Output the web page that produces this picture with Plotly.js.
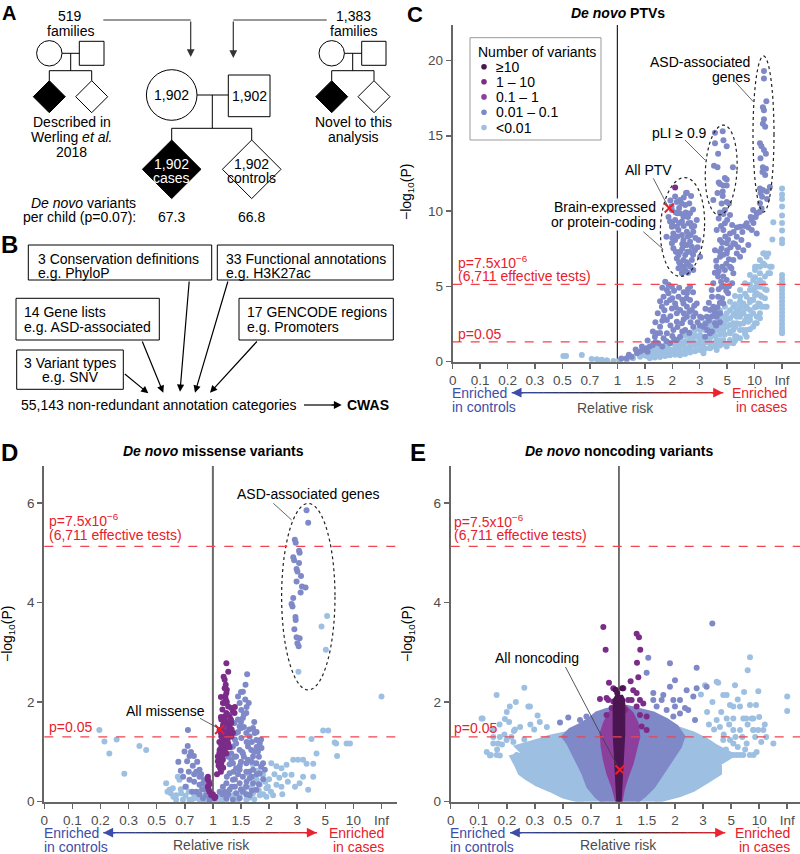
<!DOCTYPE html>
<html><head><meta charset="utf-8">
<script src="https://cdn.plot.ly/plotly-3.0.1.min.js"></script>
<style>html,body{margin:0;padding:0;background:#fff}#chart{width:800px;height:854px}</style>
</head><body><div id="chart"></div>
<script>
// ---------------- DATA ----------------
const tickRR = [0, 0.0909, 0.2, 0.333, 0.5, 0.714, 1, 1.4, 2, 3, 5, 11, Infinity];
const tickLab = ['0','0.1','0.2','0.3','0.5','0.7','1','1.5','2','3','5','10','Inf'];

// Panel C: de novo PTVs  [relative risk, -log10 P]
const ptvLight = [[0.506,0.37],[0.525,0.37],[0.645,0.43],[0.73,0.17],[0.778,0.15],[0.827,0.12],[0.88,0.07],[0.953,0.04],
[0.81,0.06],[0.88,0.06],[1.03,0.06],[1.12,0.10],[1.21,0.21],[1.32,0.32],[1.37,0.43],[1.43,0.37],[1.49,0.54],[1.56,0.50],[1.63,0.59],[1.70,0.76],[1.78,0.66],[1.86,0.99],[1.86,0.66],[1.94,0.80],[2.03,0.76],[2.13,0.88],[2.13,0.54],[2.23,0.99],[2.34,1.10],[2.34,0.54],[2.46,0.88],[2.46,1.32],[2.58,1.21],[2.58,0.99],[2.58,0.66],[2.71,1.32],[2.71,1.65],[2.86,1.21],[2.86,1.65],[2.86,0.76],[3.02,1.43],[3.02,1.76],[3.02,2.09],[3.19,0.99],[3.19,1.54],[3.19,0.54],[3.38,1.65],[3.38,1.32],[3.38,2.09],[3.57,1.87],[3.57,1.21],[3.57,0.88],[3.79,1.87],[3.79,2.20],[3.79,2.54],[4.04,1.43],[4.04,2.09],[4.04,1.21],[4.04,0.76],[4.31,2.09],[4.31,2.42],[4.31,2.76],[4.61,2.64],[4.61,2.09],[4.61,1.43],[4.95,2.31],[4.95,2.76],[4.95,3.20],[4.95,0.99],[5.33,1.87],[5.33,2.87],[5.33,2.42],[5.33,1.43],[5.76,2.54],[5.76,3.09],[5.76,3.64],[5.76,2.09],[5.76,1.21],[6.27,2.98],[6.27,3.42],[6.27,2.54],[6.27,1.65],[6.84,2.09],[6.84,3.64],[6.84,2.98],[6.84,4.31],[7.51,3.20],[7.51,3.86],[7.51,2.54],[7.51,2.09],[8.30,3.64],[8.30,4.31],[8.30,2.98],[8.30,2.09],[8.30,1.65],[8.76,2.64],[9.26,4.75],[9.26,4.09],[9.26,3.42],[9.26,2.76],[9.87,4.09],[10.4,4.75],[10.4,5.41],[10.4,4.09],[10.4,3.20],[10.4,2.31],[11.2,6.08],[12.0,5.20],[12.0,6.30],[12.0,4.53],[12.0,3.64],[12.0,2.98],[12.0,2.54],[12.9,3.86],[13.9,5.86],[13.9,6.74],[13.9,4.97],[13.9,3.20],[15.1,4.31],[15.1,3.64],[16.5,6.52],[16.5,5.20],[16.5,7.18],[17.2,7.18],[18.2,5.64],[20.4,4.75],[20.4,6.96],[20.4,3.64],[23.0,7.18],[23.0,5.86],[26.4,5.86],[26.4,6.30],[30.7,6.30],[33,8.11],[36.7,9.25],
[1.49,0.76],[1.49,0.21],[1.59,0.88],[1.59,0.70],[1.59,0.40],[1.59,0.26],[1.70,0.99],[1.70,0.50],[1.70,0.30],[1.82,1.07],[1.82,0.85],[1.82,0.55],[1.82,0.37],[1.94,1.21],[1.94,0.60],[1.94,0.41],[2.08,1.38],[2.08,1.10],[2.08,0.70],[2.08,0.45],[2.23,1.54],[2.23,1.25],[2.23,0.70],[2.23,0.41],[2.40,1.72],[2.40,1.35],[2.40,0.80],[2.40,0.50],[2.58,1.92],[2.58,1.55],[2.58,0.85],[2.58,0.59],[2.78,2.09],[2.78,1.75],[2.78,1.05],[2.78,0.68],[3.02,2.31],[3.02,1.10],[3.02,0.76],[3.28,2.58],[3.28,2.10],[3.28,1.30],[3.28,0.85],[3.57,2.87],[3.57,2.35],[3.57,1.55],[3.57,0.92],[3.91,3.09],[3.91,2.60],[3.91,1.70],[3.91,1.25],[3.91,0.99],[4.31,3.38],[4.31,3.00],[4.31,1.80],[4.31,1.40],[4.31,1.07],[4.76,3.64],[4.76,3.00],[4.76,2.40],[4.76,1.80],[4.76,1.16],[5.33,3.97],[5.33,3.40],[5.33,2.00],[5.33,1.25],[6.0,4.35],[6.0,3.80],[6.0,3.20],[6.0,2.30],[6.0,1.70],[6.0,1.38],[6.84,4.75],[6.84,4.00],[6.84,3.30],[6.84,2.50],[6.84,1.54],[7.9,5.20],[7.9,4.50],[7.9,3.50],[7.9,2.70],[7.9,1.83],[9.26,5.75],[9.26,5.10],[9.26,3.95],[9.26,3.00],[9.26,2.14],[11.2,6.30],[11.2,5.60],[11.2,4.90],[11.2,4.40],[11.2,3.60],[11.2,2.54],[13.9,6.30],[13.9,5.40],[13.9,4.40],[13.9,3.80],[13.9,2.87],[18.2,7.18],[18.2,6.40],[18.2,4.80],[18.2,4.20],[18.2,3.64]];
const ptvInfP = [11.5,11.1,10.8,10.3,9.7,9.2,8.7,8.1,7.85,5.75,5.5,5.25,5.0,4.75,4.5,4.25,4.0,3.75,3.5,3.25,3.0,2.75,2.5,2.25,2.05,1.87];
const ptvPeri = [
[17.2,19.3],[17.2,18.8],[20.0,17.3],[16.2,16.9],[17.2,16.7],[17.2,16.1],[16.2,15.8],[18.5,15.6],[13.9,14.5],[15.0,14.3],[17.2,14.05],[19.4,13.8],[14.3,13.5],[16.2,12.9],[19.4,12.8],[15.8,12.6],[18.5,12.4],[13.9,11.5],[16.2,11.4],[26,11.6],[14.3,11.2],[20.6,11.3],[15.5,10.95],[21,10.8],[13.9,9.95],
[3.91,15.2],[4.55,15.3],[4.62,14.7],[3.91,14.5],[4.95,14.3],[4.15,13.8],[3.84,13.0],[4.1,12.9],[5.7,12.9],[4.76,12.2],[4.95,12.1],[4.2,11.9],[4.31,11.8],[4.6,11.7],[4.95,11.7],[4.1,11.2],[4.55,11.3],[4.55,11.0],[4.95,10.6],[5.2,10.5],[4.31,9.9],[4.62,9.8],[4.45,10.5],[3.79,10.73],[4.76,10.07],
[2.08,10.96],[2.23,10.73],[2.46,11.22],[2.40,10.4],[2.23,9.85],[2.58,9.85],[2.08,9.4],[2.29,9.3],[2.52,9.18],[2.86,9.4],[1.99,8.96],[2.18,8.73],[2.46,8.62],[2.71,8.62],[1.85,8.29],[2.08,8.07],[2.34,8.07],[2.58,7.96],[2.94,8.07],[2.03,7.52],[2.23,7.3],[2.48,7.3],[2.78,7.4],[2.13,6.85],[2.34,6.74],[2.65,6.74],[2.18,6.19],[2.40,6.08],[2.29,5.86],[2.71,6.08],[3.02,6.96],[1.94,9.3],[2.46,7.74],[2.43,11.2],[2.13,10.6],[2.28,10.5],[1.98,10.3],[2.42,9.9],[2.15,9.85],[1.99,10.07],[2.34,9.62],[2.13,8.96],[2.65,8.96],[2.29,8.4],[1.99,7.85],[2.40,7.74],[2.65,7.63],[2.18,7.07],[2.40,7.07],[2.23,6.52],[2.52,6.41],[2.34,6.30],[2.03,8.51],
[1.9,9.6],[2.0,9.1],[2.1,9.9],[2.2,9.2],[2.35,9.0],[2.5,9.6],[2.6,9.2],[2.75,9.0],[2.0,8.2],[2.15,8.3],[2.3,7.8],[2.5,8.3],[2.6,8.4],[2.8,8.2],[2.1,7.3],[2.3,7.5],[2.55,7.3],[2.7,7.1],[2.9,7.6],[2.2,6.6],[2.45,6.6],[2.6,6.3],[2.3,5.95],[2.5,5.9],[2.2,10.2],[2.35,10.9],[2.55,10.5],[2.7,10.1],[1.95,10.7],[2.62,11.0],
[1.78,4.31],[1.86,4.75],[1.94,4.09],[1.74,3.64],[1.99,3.53],[2.18,4.31],[2.34,3.86],[2.58,4.09],[2.13,3.2],[2.46,2.98],[1.86,2.76],[1.70,2.31],[2.03,2.09],[2.29,2.54],[2.65,3.42],[2.86,3.86],[1.59,1.65],[1.78,1.54],[1.94,1.21],[2.23,1.65],[1.49,0.99],[1.37,0.76],[1.27,0.54],[1.19,0.32],[1.12,0.21],[2.58,4.97],[2.71,2.31],[3.02,2.98],[1.90,4.53],[2.08,3.86],[2.23,3.42],[2.46,3.64],[2.13,2.64],[1.78,2.98],[1.63,1.87],[1.86,1.87],[2.40,2.09],[2.71,2.98],[1.32,0.66],[1.43,0.88],[1.66,1.21],[2.13,1.43],[2.46,4.53],[1.99,4.97],[1.82,5.3],
[1.75,4.9],[1.9,5.1],[2.05,4.7],[2.2,4.9],[2.35,4.6],[2.5,4.8],[2.7,4.6],[1.7,4.0],[1.85,3.9],[2.0,4.2],[2.3,4.1],[2.45,4.2],[2.75,3.7],[1.65,3.2],[1.8,3.4],[1.95,3.0],[2.1,3.6],[2.35,3.2],[2.55,3.3],[2.8,3.2],[1.6,2.6],[1.75,2.7],[1.95,2.4],[2.15,2.3],[2.35,2.8],[2.6,2.6],[2.9,2.6],[1.55,2.0],[1.7,1.9],[2.0,1.7],[2.3,2.0],[2.55,1.9],[1.45,1.4],[1.6,1.3],[1.85,1.35],[2.05,1.5],[1.35,1.0],[1.55,1.1],[1.75,1.0],[1.25,0.8],[1.45,0.65],[1.15,0.45],[1.05,0.2],
[3.57,1.87],[3.91,2.54],[4.31,3.2],[3.79,3.64],[4.61,3.86],[4.15,4.31],[5.1,4.53],[4.45,4.97],[4.95,5.41],[5.6,5.2],[5.76,5.86],[4.76,6.08],[4.04,6.3],[4.31,6.96],[3.91,7.4],[4.95,7.18],[5.76,7.85],[4.31,8.07],[5.33,8.51],[6.27,8.29],[6.84,8.96],[8.30,9.18],[9.87,9.4],[12.0,9.85],[15.1,10.17],[12.0,8.51],[7.51,7.4],[8.76,7.74],[4.61,8.73],[3.79,5.2],[3.38,2.98],[3.19,2.31],[4.04,8.73],[4.76,9.18],[5.33,9.74],[6.84,6.96],[5.76,6.74],[5.33,6.30],[6.27,7.18],[7.1,8.07],[3.68,4.75],[4.61,5.64],[4.15,5.64],[3.57,3.42],[4.04,2.98],[3.28,1.65],[9.87,8.73],[10.4,10.07],[13.9,10.51],[4.95,7.85],[5.6,9.07],[4.45,7.52],
[3.3,2.5],[3.5,2.7],[3.7,3.0],[3.9,3.3],[4.1,3.6],[4.3,3.9],[4.5,4.2],[4.2,4.8],[4.4,5.3],[4.7,5.0],[4.9,4.7],[5.2,5.0],[3.9,5.9],[4.2,6.0],[4.5,6.3],[4.9,6.5],[5.2,6.8],[5.5,6.2],[4.0,6.7],[4.3,7.3],[4.6,7.1],[5.0,7.4],[5.4,7.6],[6.0,7.8],[6.5,7.6],[4.5,7.9],[4.8,8.3],[5.1,8.1],[5.8,8.6],[6.3,8.9],[7.3,8.6],[7.8,9.0],[8.8,8.9],[9.5,9.6],[10.5,9.2],[11.5,9.6],[13,9.9],[4.4,9.0],[5.0,9.4],[4.2,9.5],[3.7,4.3],[3.5,3.9],[3.3,3.5],[3.1,2.9],[3.0,2.4],[3.4,2.1],[3.7,2.0],[4.0,2.4],[4.3,2.6]];
const ptvPurple = [[2.08,11.57]];
const ptvAll = [[1.92,10.2]];

// Panel D: de novo missense
const missLight = [[0.195,1.44],[0.217,1.21],[0.239,0.97],[0.273,1.25],[0.311,0.56],[0.393,1.12],[0.433,1.04],
[0.566,0.37],[0.576,0.20],[0.591,0.24],[0.616,0.27],[0.669,0.44],[0.683,0.17],[0.642,0.13],[0.727,0.30],[0.756,0.04],[0.803,0.07],[0.853,0.04],[0.698,0.04],[0.642,0.04],[0.60,0.17],[0.655,0.50],
[0.853,0.07],[0.925,0.04],[1.0,0.03],[1.083,0.04],[1.174,0.04],[1.27,0.07],[1.377,0.10],[1.494,0.13],[1.625,0.17],[1.77,0.13],[1.93,0.10],[1.494,0.04],[1.083,0.10],[1.696,0.44],[1.846,0.54],[1.77,0.34],[1.93,0.27],[1.52,0.57],[1.70,0.44],[1.60,0.30],[1.40,0.20],[1.30,0.15],[1.20,0.12],[0.95,0.08],[0.90,0.12],[0.80,0.15],[0.75,0.20],
[0.62,0.1],[0.68,0.25],[0.72,0.12],[0.78,0.05],[0.85,0.2],[0.9,0.05],[0.95,0.15],[1.05,0.05],[1.1,0.08],[1.15,0.03],[1.25,0.12],[1.35,0.05],[1.45,0.2],[1.55,0.08],[1.65,0.05],[1.75,0.22],[1.85,0.15],[1.9,0.4],[1.8,0.55],[1.7,0.62],[1.62,0.75],[1.58,0.28],[1.48,0.3],[2.0,0.45],[2.15,0.55],[2.3,0.48],[2.6,0.4],[2.9,0.3],[2.05,0.2],[2.4,0.15],
[2.06,0.77],[2.21,0.71],[2.37,0.67],[2.55,0.74],[2.82,0.84],[3.04,0.84],[3.30,0.84],[3.50,0.76],[3.94,0.76],[4.19,0.97],[3.82,1.26],[4.78,1.43],[5.33,1.43],[6.2,1.19],[6.45,1.17],[8.66,1.17],[9.7,1.17],[6.6,0.92],[2.49,0.54],[2.75,0.54],[3.12,0.37],[3.30,0.50],[2.37,0.30],[2.21,0.34],[1.97,0.30],[3.94,0.50],[3.60,0.24],[2.11,0.13],
[5.2,3.73],[4.62,3.52],[5.06,3.05],[3.06,2.61],[Infinity,2.11]];
const missPeri = [[3.50,5.85],[3.60,5.60],[2.89,5.26],[2.93,5.20],[3.09,5.04],[3.12,5.00],[2.82,4.91],[2.86,4.85],[3.09,4.79],[2.97,4.67],[3.01,4.62],[3.19,4.53],[2.97,4.42],[3.24,4.32],[3.17,4.20],[3.44,4.30],[2.82,4.09],[2.75,3.97],[2.79,3.92],[2.92,3.71],[2.93,3.65],[2.87,3.46],[2.97,3.30],[3.12,3.28],[3.01,3.18],[3.07,3.12],
[0.742,1.44],[1.51,2.56],[0.712,1.01],[0.756,0.92],[0.797,0.92],[0.735,0.81],[0.787,0.72],[0.82,0.60],[0.853,0.50],[0.756,0.44],[0.853,0.34],[0.889,0.37],[0.907,0.24],[0.82,0.20],[0.925,0.13],[0.853,0.64],[0.925,0.30],[0.889,0.07],[0.961,0.04],
[0.7,0.5],[0.75,0.6],[0.8,0.4],[0.72,0.3],[0.78,0.2],[0.85,0.15],[0.88,0.25],[0.9,0.45],[0.83,0.8],[0.77,1.0],[0.74,1.12],[0.8,0.55],[0.87,0.55],[0.68,0.62],[0.66,0.8],
[1.433,2.21],[1.475,2.05],[1.377,1.98],[1.405,1.84],[1.35,1.65],[1.433,1.68],[1.625,1.48],[1.66,1.38],[1.558,1.31],[1.696,1.24],[1.77,1.17],[1.81,1.08],[1.27,1.11],[1.32,0.91],[1.433,0.97],[1.526,0.84],[1.625,0.91],[1.696,0.77],[1.846,0.77],[1.377,0.64],[1.494,0.60],[1.625,0.64],[1.77,0.57],[1.27,0.44],[1.377,0.37],[1.494,0.30],[1.625,0.37],[1.22,0.24],[1.32,0.17],[1.433,0.20],[1.174,0.07],[1.27,0.04],[1.377,0.07],[1.558,0.13],[1.696,0.24],[1.526,1.11],[1.405,1.28],[1.32,1.38],
[1.295,1.58],[1.377,1.51],[1.494,1.38],[1.32,1.17],[1.377,1.04],[1.245,0.97],[1.27,0.77],[1.22,0.57],[1.174,0.37],[1.083,0.20],[1.126,0.30],[1.59,1.04],[1.73,1.01],[1.89,0.64],[1.558,0.47],[1.433,0.50],[1.32,0.67],[1.245,0.84],[1.494,0.77],[1.405,1.48],[1.494,1.78],[1.54,1.98],[1.35,2.11],
[1.2,0.9],[1.25,1.1],[1.3,1.25],[1.35,1.4],[1.4,1.6],[1.45,1.5],[1.5,1.2],[1.45,0.9],[1.4,0.8],[1.35,0.55],[1.3,0.45],[1.25,0.3],[1.2,0.15],[1.15,0.2],[1.3,0.3],[1.4,0.25],[1.5,0.4],[1.55,0.6],[1.6,0.8],[1.65,1.0],[1.7,1.1],[1.75,0.9],[1.8,0.7],[1.7,0.55],[1.6,0.5],[1.5,0.15],[1.6,0.22],[1.75,0.35],[1.85,0.45],[1.45,1.75],[1.5,1.9],[1.4,2.2],[1.48,2.35],[1.42,1.0],[1.38,0.72],[1.28,0.6],[1.18,0.5],[1.22,0.75],[1.12,0.15],[1.3,0.9],[1.6,1.2],[1.55,1.45],[1.65,1.6],[1.7,1.4],[1.8,1.25]];
const missPurple = [[1.174,2.78],[1.2,2.61],[1.165,2.35],[1.15,2.28],[1.174,2.18],[1.165,2.05],[1.126,1.98],[1.2,1.91],[1.245,1.88],[1.27,1.81],[1.15,1.71],[1.105,1.65],[1.174,1.58],[1.22,1.51],[1.136,1.41],[1.2,1.38],[1.083,1.44],[1.105,1.31],[1.15,1.24],[1.22,1.31],[1.105,1.14],[1.15,1.11],[1.126,1.01],[1.083,0.91],[1.06,0.81],[1.105,0.77],[1.174,0.97],[1.2,1.17],[0.943,0.50],[0.954,0.40],[0.943,0.30],[0.961,0.20],[0.98,0.13],[1.02,0.07],[1.27,1.38],[1.245,1.58],[1.295,1.78],[1.136,2.51],[1.15,1.98],[1.22,1.71],[1.174,1.78],[1.126,1.51],[1.245,1.31],[1.126,1.21],[1.083,1.04],[1.174,1.08],[1.06,0.91],[1.09,0.67],[1.126,0.84],
[1.10,2.1],[1.18,2.0],[1.12,1.85],[1.19,1.75],[1.10,1.7],[1.16,1.62],[1.24,1.65],[1.13,1.55],[1.2,1.47],[1.1,1.38],[1.18,1.33],[1.25,1.45],[1.14,1.29],[1.08,1.2],[1.19,1.24],[1.16,1.15],[1.1,1.07],[1.22,1.1],[1.14,0.98],[1.08,0.98],[1.12,0.9],[1.07,0.72],[1.1,0.6],[1.13,0.68],[1.05,0.55],[0.94,0.45],[0.96,0.35],[0.95,0.25],[1.0,0.15],[1.03,0.1],[1.3,1.9],[1.15,2.45],[1.18,2.25],[1.16,2.12]];
const missAll = [[1.083,1.45]];

// Panel E: de novo noncoding (dense regions as outlines + scattered points)
const ncLightEnv = [[0.650,0],[0.503,0.10],[0.418,0.234],[0.343,0.348],[0.291,0.469],[0.259,0.569],[0.241,0.737],[0.221,0.904],[0.275,0.971],[0.244,1.105],[0.361,1.239],[0.418,1.306],[0.525,1.373],[0.624,1.507],[0.766,1.64],[1.285,1.64],[1.791,1.574],[1.955,1.507],[2.584,1.373],[3.177,1.239],[3.770,1.105],[5.246,0.938],[4.006,0.770],[4.006,0.569],[3.177,0.402],[2.584,0.234],[2.138,0.134],[1.545,0]];
const ncPeriEnv = [[0.830,0],[0.766,0.10],[0.692,0.301],[0.650,0.569],[0.611,0.770],[0.573,0.971],[0.537,1.172],[0.503,1.306],[0.549,1.44],[0.624,1.54],[0.692,1.64],[0.766,1.774],[0.863,1.841],[1.096,1.908],[1.285,1.841],[1.513,1.774],[1.791,1.64],[2.044,1.507],[2.239,1.306],[2.138,1.105],[1.955,0.904],[1.791,0.703],[1.645,0.502],[1.513,0.301],[1.366,0.134],[1.235,0]];
const ncPurpleEnv = [[0.980,0],[0.935,0.301],[0.881,0.569],[0.846,0.837],[0.823,1.105],[0.813,1.373],[0.846,1.574],[0.898,1.774],[0.973,1.908],[1.074,1.908],[1.163,1.774],[1.235,1.574],[1.260,1.306],[1.210,1.038],[1.163,0.770],[1.096,0.502],[1.045,0.234],[1.020,0]];
const ncDarkEnv = [[0.992,0],[0.965,0.703],[0.950,1.373],[0.950,2.042],[0.973,2.109],[1.032,2.109],[1.053,2.042],[1.053,1.373],[1.036,0.703],[1.008,0]];
const ncLight = [[8.036,2.90],[7.511,2.64],[Infinity,2.11],[Infinity,1.82],[10.65,2.22],[8.036,1.94],[8.466,1.67],[4.557,2.14],[5.246,1.91],[6.128,1.91],[3.770,2.41],[5.447,2.34],[3.092,2.34],[3.88,2.39],[4.26,2.14],[4.88,1.94],[9.8,1.94],[6.66,1.67],[5.24,1.67],[7.2,1.67],[8.9,1.67],[8.9,1.44],[10.6,1.44],[13.1,1.44],[5.24,1.44],[4.26,1.24],[4.88,1.24],[5.66,0.94],[6.66,0.94],[3.770,1.64],[4.557,1.67],[6.128,1.44],[8.935,1.44],[5.246,1.17],[7.299,1.17],[23.3,1.17],[5.246,0.94],[6.128,0.94],
[3.3,1.55],[3.6,1.45],[4.0,1.5],[4.3,1.35],[4.8,1.55],[5.5,1.3],[6.5,1.3],[7.5,1.55],[9.5,1.3],[12,1.2],[15,1.3],[3.2,1.8],[3.5,2.0],[2.9,2.15],[4.1,1.8],[5.8,2.05],[6.8,2.2],[11,1.7],[14,1.55],[4.5,1.05],[5.8,1.1],[7,1.05],[8,0.94],[9,0.94],[10,1.0],
[0.158,2.14],[0.280,2.29],[0.308,1.91],[0.213,1.91],[0.1047,1.67],[0.192,1.66],[0.348,1.73],[0.231,1.42],[0.145,1.17],[0.164,1.17],[0.132,0.93],[0.171,0.93],[0.101,1.67],[0.30,1.91],[0.236,1.45],[0.145,1.30],[0.171,1.30],[0.199,1.24],[0.135,0.94],[0.158,0.94],[0.229,1.2],[0.259,1.1],[0.244,0.94],[0.275,0.94],[0.308,0.94],[0.25,0.76],[0.28,0.76],
[0.12,1.0],[0.14,1.45],[0.17,1.55],[0.19,1.35],[0.21,1.6],[0.26,1.5],[0.28,1.25],[0.31,1.55],[0.33,1.45],[0.36,1.6],[0.4,1.5],[0.24,2.0],[0.2,1.8],[0.16,1.05],[0.18,1.15],[0.22,1.3]];
const ncPeri = [[3.494,3.58],[1.422,2.89],[1.394,2.59],[1.870,2.78],[1.998,2.44],[2.716,2.69],[2.346,2.24],[2.716,2.28],[3.177,2.31],[1.870,2.31],[2.138,2.04],[1.955,2.04],[1.716,2.14],[1.577,1.91],[1.998,1.91],[2.292,1.88],[0.481,1.59],[0.537,1.69],[0.664,1.51],[0.720,1.57],[1.680,2.04],[1.513,2.04],[1.513,2.18],[2.584,2.11],[2.4,1.84],[1.791,1.84],[0.624,1.64],[0.676,1.71],[0.735,1.67],[1.955,1.71],[2.138,1.77],[2.65,1.64]];
const ncPurple = [[0.830,3.51],[0.853,3.05],[1.235,3.37],[1.270,3.30],[1.290,3.05],[1.240,2.79],[1.260,2.50],[1.149,2.42],[0.935,2.28],[1.053,2.28],[1.186,2.24],[1.235,2.18],[0.797,2.06],[0.863,2.08],[0.935,2.01],[1.118,2.04],[1.163,2.04],[1.285,2.04],[1.338,1.97],[1.235,1.91],[0.916,1.88],[1.074,1.84],[0.863,1.74],[1.285,1.74],[1.394,1.71],[1.312,1.51],[1.394,1.44],[0.888,2.39],[0.88,2.04]];
const ncDark = [[0.96,2.25],[1.04,2.28],[0.98,2.18]];
const ncAll = [[1.012,0.64]];

// thresholds and legend
const pBonf = 5.125, pNominal = 1.301;
const legendLabels = ['≥10','1 – 10','0.1 – 1','0.01 – 0.1','&lt;0.01'];

// ---------------- STYLE / HELPERS ----------------
const F = '"Liberation Sans", Arial, Helvetica, sans-serif';
const W = 800, H = 854;
const PX = x => x / W, PY = y => 1 - y / H;
const C_GE10 = '#4a1550', C_1_10 = '#7b2c88', C_01_1 = '#8d3f9e', C_PERI = '#7f89c8', C_LT = '#9dc0e2';
const RED = '#e8202a', BLUE = '#3b4ea8', GRAYTXT = '#4d4d4d';
const rrAxis = r => (r === Infinity ? 1 : (r - 1) / (r + 1));

const data = [];
function addPts(list, xa, ya, color, size){
  data.push({type:'scatter',mode:'markers',x:list.map(d=>rrAxis(d[0])),y:list.map(d=>d[1]),xaxis:xa,yaxis:ya,
    marker:{color:color,size:size||6,line:{width:0}},cliponaxis:false,hoverinfo:'skip',showlegend:false});
}
function addEnv(list, xa, ya, color){
  data.push({type:'scatter',mode:'lines',x:list.map(d=>rrAxis(d[0])),y:list.map(d=>d[1]),xaxis:xa,yaxis:ya,
    fill:'toself',fillcolor:color,line:{color:color,width:4},hoverinfo:'skip',showlegend:false});
}
function addX(list, xa, ya){
  data.push({type:'scatter',mode:'markers',x:list.map(d=>rrAxis(d[0])),y:list.map(d=>d[1]),xaxis:xa,yaxis:ya,
    marker:{symbol:'x-thin',size:9,color:'#ee1c25',line:{color:'#ee1c25',width:2}},cliponaxis:false,hoverinfo:'skip',showlegend:false});
}

addPts(ptvLight,'x','y',C_LT);
addPts(ptvInfP.map(p=>[Infinity,p]),'x','y',C_LT);
addPts(ptvPeri,'x','y',C_PERI);
addPts(ptvPurple,'x','y',C_1_10);
addX(ptvAll,'x','y');
addPts(missLight,'x2','y2',C_LT);
addPts(missPeri,'x2','y2',C_PERI);
addPts(missPurple,'x2','y2',C_1_10);
addX(missAll,'x2','y2');
addEnv(ncLightEnv,'x3','y3',C_LT);
addPts(ncLight,'x3','y3',C_LT);
addEnv(ncPeriEnv,'x3','y3',C_PERI);
addPts(ncPeri,'x3','y3',C_PERI);
addEnv(ncPurpleEnv,'x3','y3',C_01_1);
addPts(ncPurple,'x3','y3',C_1_10);
addEnv(ncDarkEnv,'x3','y3',C_GE10);
addPts(ncDark,'x3','y3',C_GE10);
addX(ncAll,'x3','y3');

function xax(domain, right, anchor){
  return {domain:domain, range:[-1,right], anchor:anchor, tickvals:tickRR.map(rrAxis), ticktext:tickLab,
    ticks:'outside', ticklen:5, tickwidth:1.5, tickcolor:'#666', showline:true, linecolor:'#666', linewidth:2,
    showgrid:false, zeroline:false, tickfont:{family:F,size:13.5,color:GRAYTXT}, fixedrange:true};
}
function yax(domain, top, tv, anchor){
  return {domain:domain, range:[0,top], anchor:anchor, tickvals:tv, ticks:'outside', ticklen:5, tickwidth:1.5,
    tickcolor:'#666', showline:true, linecolor:'#666', linewidth:2, showgrid:false, zeroline:false,
    tickfont:{family:F,size:13.5,color:GRAYTXT}, fixedrange:true};
}

const shapes = [], ann = [];
function ln(x0,y0,x1,y1,color,width,dash){ shapes.push({type:'line',xref:'paper',yref:'paper',x0:PX(x0),y0:PY(y0),x1:PX(x1),y1:PY(y1),line:{color:color||'#000',width:width||1,dash:dash||'solid'}}); }
function rect(x0,y0,x1,y1,fill,lc){ shapes.push({type:'rect',xref:'paper',yref:'paper',x0:PX(x0),y0:PY(y0),x1:PX(x1),y1:PY(y1),fillcolor:fill||'rgba(0,0,0,0)',line:{color:lc||'#000',width:1}}); }
function circ(cx,cy,r,fill,lc,lw){ shapes.push({type:'circle',xref:'paper',yref:'paper',x0:PX(cx-r),y0:PY(cy+r),x1:PX(cx+r),y1:PY(cy-r),fillcolor:fill||'rgba(0,0,0,0)',line:{color:lc||'#000',width:lw===undefined?1:lw}}); }
function diamond(cx,cy,h,fill){ shapes.push({type:'path',xref:'paper',yref:'paper',path:'M'+PX(cx)+','+PY(cy-h)+'L'+PX(cx+h)+','+PY(cy)+'L'+PX(cx)+','+PY(cy+h)+'L'+PX(cx-h)+','+PY(cy)+'Z',fillcolor:fill,line:{color:'#000',width:1}}); }
function ellipse(cx,cy,rx,ry,rot){
  const a=rot*Math.PI/180; let d='';
  for(let i=0;i<=72;i++){const th=2*Math.PI*i/72, ex=rx*Math.cos(th), ey=ry*Math.sin(th);
    const X=cx+ex*Math.cos(a)-ey*Math.sin(a), Y=cy+ex*Math.sin(a)+ey*Math.cos(a);
    d+=(i?'L':'M')+PX(X).toFixed(5)+','+PY(Y).toFixed(5);}
  shapes.push({type:'path',xref:'paper',yref:'paper',path:d+'Z',line:{color:'#222',width:1.2,dash:'dot'}});
}
function txt(x,y,text,o){ o=o||{};
  ann.push({xref:'paper',yref:'paper',x:PX(x),y:PY(y),text:text,showarrow:false,xanchor:o.xa||'center',yanchor:'middle',
    textangle:o.ang||0,bgcolor:o.bg||'rgba(0,0,0,0)',borderpad:o.pad||0,
    font:{family:F,size:o.size||14,color:o.color||'#000'}}); }
function arr(x0,y0,x1,y1,color,width,size){
  ann.push({xref:'paper',yref:'paper',x:PX(x1),y:PY(y1),ax:x0-x1,ay:y0-y1,text:'',showarrow:true,arrowhead:2,
    arrowsize:size||1.2,arrowwidth:width||1.2,arrowcolor:color||'#000',standoff:0,startstandoff:0}); }
function mix(a,b,f){return 'rgb('+a.map((v,i)=>Math.round(v+(b[i]-v)*f)).join(',')+')';}
function gradArrow(x0,x1,y){
  const n=40, B=[59,78,170], K=[35,35,35], R=[238,36,46];
  for(let i=0;i<n;i++){const f=(i+0.5)/n; const c=f<0.5?mix(B,K,f*2):mix(K,R,(f-0.5)*2);
    ln(x0+(x1-x0)*i/n,y,x0+(x1-x0)*(i+1)/n+0.3,y,c,1.4);}
  arr(x0+13,y,x0,y,mix(B,K,0.02),1.4,1.4);
  arr(x1-13,y,x1,y,mix(K,R,0.98),1.4,1.4);
}

// Panel letters
txt(1,13,'<b>A</b>',{xa:'left',size:20});
txt(0,244,'<b>B</b>',{xa:'left',size:24});
txt(406,14,'<b>C</b>',{xa:'left',size:22});
txt(0,452,'<b>D</b>',{xa:'left',size:24});
txt(409,452,'<b>E</b>',{xa:'left',size:24});

// Panel A
txt(70,16,'519'); txt(70,31,'families');
txt(353.3,16,'1,383'); txt(353.3,31,'families');
ln(103.3,20,190.7,20,'#333',1.2); arr(190.7,20,190.7,57,'#333',1.2,1.3);
ln(326.7,20,233.3,20,'#333',1.2); arr(233.3,20,233.3,58,'#333',1.2,1.3);
circ(49.3,53.3,12.7); rect(79.3,41.3,104,65.3);
ln(62,53.3,79.3,53.3); ln(70.7,53.3,70.7,70.7); ln(49.3,70.7,91.7,70.7); ln(49.3,70.7,49.3,80.7); ln(91.7,70.7,91.7,80.7);
diamond(49.3,96.7,16,'#000'); diamond(91.7,96.7,16,'#fff');
txt(71.7,121.7,'Described in'); txt(71.7,136.7,'Werling <i>et al.</i>'); txt(71.7,151.7,'2018');
circ(331.7,53.3,12.7); rect(361.7,41.3,386,65.3);
ln(344.4,53.3,361.7,53.3); ln(352.7,53.3,352.7,70.7); ln(331.7,70.7,374,70.7); ln(331.7,70.7,331.7,80.7); ln(374,70.7,374,80.7);
diamond(331.7,96.7,16,'#000'); diamond(374,96.7,16,'#fff');
txt(353.3,121.7,'Novel to this'); txt(353.3,136.7,'analysis');
circ(171.7,95,25.3); rect(228.3,75,270,116.7);
txt(171.7,95,'1,902'); txt(249.2,95.8,'1,902');
ln(197,95,228.3,95); ln(212.3,95,212.3,128.3); ln(171.7,128.3,251.7,128.3); ln(171.7,128.3,171.7,140); ln(251.7,128.3,251.7,140);
diamond(171.7,169.3,29.3,'#000'); diamond(251.7,169.3,29.3,'#fff');
txt(171.7,164,'1,902',{color:'#fff'}); txt(171.7,178.3,'cases',{color:'#fff'});
txt(251.7,164,'1,902'); txt(251.7,178.3,'controls');
txt(136.7,202.7,'<i>De novo</i> variants',{xa:'right'}); txt(136.7,216.7,'per child (p=0.07):',{xa:'right'});
txt(171.7,216.7,'67.3'); txt(251.7,216.7,'66.8');

// Panel B
rect(28.3,245,211.7,280); rect(217.3,245,393.3,280); rect(16,298.3,159.3,340); rect(239,298.3,393.3,340); rect(16.7,350,123.3,389.3);
txt(36.7,259.3,'3 Conservation definitions',{xa:'left'}); txt(36.7,273.3,'e.g. PhyloP',{xa:'left'});
txt(225,259.3,'33 Functional annotations',{xa:'left'}); txt(225,273.3,'e.g. H3K27ac',{xa:'left'});
txt(23.3,311.7,'14 Gene lists',{xa:'left'}); txt(23.3,326.7,'e.g. ASD-associated',{xa:'left'});
txt(246,311.7,'17 GENCODE regions',{xa:'left'}); txt(246,326.7,'e.g. Promoters',{xa:'left'});
txt(70,363.3,'3 Variant types'); txt(70,376.7,'e.g. SNV');
txt(20,405,'55,143 non-redundant annotation categories',{xa:'left'});
ln(304,405,336,405,'#000',1.2); arr(330,405,341.7,405,'#000',1.2,1.3);
txt(368.3,405,'<b>CWAS</b>');
arr(123.3,372.7,148.3,393.3); arr(141.7,340,163.3,392.7); arr(189.3,280,180,391.7); arr(228.3,280,195,392.7); arr(258.3,340,210,392.7);

// Panel C annotations
txt(618,13,'<b><i>De novo</i> PTVs</b>');
txt(407,192,'−log<sub>10</sub>(P)',{ang:-90});
rect(470,37.7,601,140,'#fff','#999');
txt(476.7,52.3,'Number of variants',{xa:'left'});
const legCols=[C_GE10,C_1_10,C_01_1,C_PERI,C_LT], legY=[66.7,81.7,96.9,112.3,127.5];
legendLabels.forEach((l,i)=>{ circ(484,legY[i],2.8,legCols[i],legCols[i],0); txt(495,legY[i],l,{xa:'left'}); });
txt(457,261.7,'p=7.5x10<sup>−6</sup>',{xa:'left',color:RED}); txt(457,275.5,'(6,711 effective tests)',{xa:'left',color:RED});
txt(457,334,'p=0.05',{xa:'left',color:RED});
txt(751.3,62.3,'ASD-associated',{xa:'right'}); txt(751.3,77,'genes',{xa:'right'});
ln(735,81.7,753.3,101.7,'#555',0.9);
txt(708.3,133.3,'pLI ≥ 0.9',{xa:'right'});
ln(685,140,705,160,'#555',0.9);
txt(648.3,170,'All PTV');
ln(653.3,178.3,667.5,205.5,'#555',0.9);
txt(656.7,207.3,'Brain-expressed',{xa:'right',bg:'#fff'}); txt(656.7,221.7,'or protein-coding',{xa:'right',bg:'#fff'});
ln(643.3,231.7,663.3,249.3,'#555',0.9);
ellipse(682.5,227,22,49.5,3); ellipse(721.2,170,15.8,45,3); ellipse(763.5,134,10.5,78,0);
txt(450.7,392.7,'Enriched',{xa:'left',color:BLUE}); txt(450.7,407.3,'in controls',{xa:'left',color:BLUE});
txt(788.3,392.7,'Enriched',{xa:'right',color:RED}); txt(788.3,407.3,'in cases',{xa:'right',color:RED});
txt(615,408,'Relative risk',{color:GRAYTXT});
gradArrow(511.7,723,392.7);

// Panel D annotations
txt(213,451,'<b><i>De novo</i> missense variants</b>');
txt(8,634,'−log<sub>10</sub>(P)',{ang:-90});
txt(48.3,520,'p=7.5x10<sup>−6</sup>',{xa:'left',color:RED}); txt(48.3,534.5,'(6,711 effective tests)',{xa:'left',color:RED});
txt(48.3,726.7,'p=0.05',{xa:'left',color:RED});
txt(308.3,494,'ASD-associated genes');
ln(273.3,503.3,291.7,520,'#555',0.9);
ellipse(308.3,596.7,26.7,93.3,0);
txt(165.7,711,'All missense');
ln(200,718.3,217.5,727.8,'#555',0.9);
txt(43.3,832.7,'Enriched',{xa:'left',color:BLUE}); txt(43.3,846.5,'in controls',{xa:'left',color:BLUE});
txt(385,832.7,'Enriched',{xa:'right',color:RED}); txt(385,846.5,'in cases',{xa:'right',color:RED});
txt(211.7,845,'Relative risk',{color:GRAYTXT});
gradArrow(103.3,316.7,832.7);

// Panel E annotations
txt(619,451,'<b><i>De novo</i> noncoding variants</b>');
txt(408,634,'−log<sub>10</sub>(P)',{ang:-90});
txt(453.3,520.7,'p=7.5x10<sup>−6</sup>',{xa:'left',color:RED}); txt(453.3,535.3,'(6,711 effective tests)',{xa:'left',color:RED});
txt(453.3,728.3,'p=0.05',{xa:'left',color:RED});
txt(536.7,658.3,'All noncoding');
ln(565.5,667,616.5,764.5,'#444',0.9);
txt(449.3,832.7,'Enriched',{xa:'left',color:BLUE}); txt(449.3,846.5,'in controls',{xa:'left',color:BLUE});
txt(790.7,832.7,'Enriched',{xa:'right',color:RED}); txt(790.7,846.5,'in cases',{xa:'right',color:RED});
txt(618.3,845,'Relative risk',{color:GRAYTXT});
gradArrow(510,725,832.7);

// data-referenced lines: RR = 1 and significance thresholds
[['x','y','#222',1.2],['x2','y2','#6a6a6a',2],['x3','y3','#444',1.5]].forEach(a=>{
  shapes.push({type:'line',xref:a[0],yref:a[1]+' domain',x0:rrAxis(1),x1:rrAxis(1),y0:0,y1:1,layer:'below',line:{color:a[2],width:a[3]}});
  [pBonf,pNominal].forEach(v=>shapes.push({type:'line',xref:a[0]+' domain',yref:a[1],x0:0,x1:1,y0:v,y1:v,line:{color:'#f0444f',width:1.2,dash:'dash'}}));
});

const layout = {
  width:W, height:H, margin:{l:0,r:0,t:0,b:0}, autosize:false,
  paper_bgcolor:'#fff', plot_bgcolor:'rgba(0,0,0,0)', showlegend:false, hovermode:false,
  font:{family:F,size:14,color:'#000'},
  xaxis: xax([452.7/W,1],1.109,'y'),
  yaxis: yax([1-361.5/H,1-25/H],22.36,[0,5,10,15,20],'x'),
  xaxis2: xax([44.3/W,397/W],1.092,'y2'),
  yaxis2: yax([1-801.7/H,1-466/H],6.74,[0,2,4,6],'x2'),
  xaxis3: xax([450.7/W,1],1.076,'y3'),
  yaxis3: yax([1-801.7/H,1-466/H],6.74,[0,2,4,6],'x3'),
  shapes:shapes, annotations:ann
};
Plotly.newPlot('chart', data, layout, {displayModeBar:false, staticPlot:true});
</script></body></html>
